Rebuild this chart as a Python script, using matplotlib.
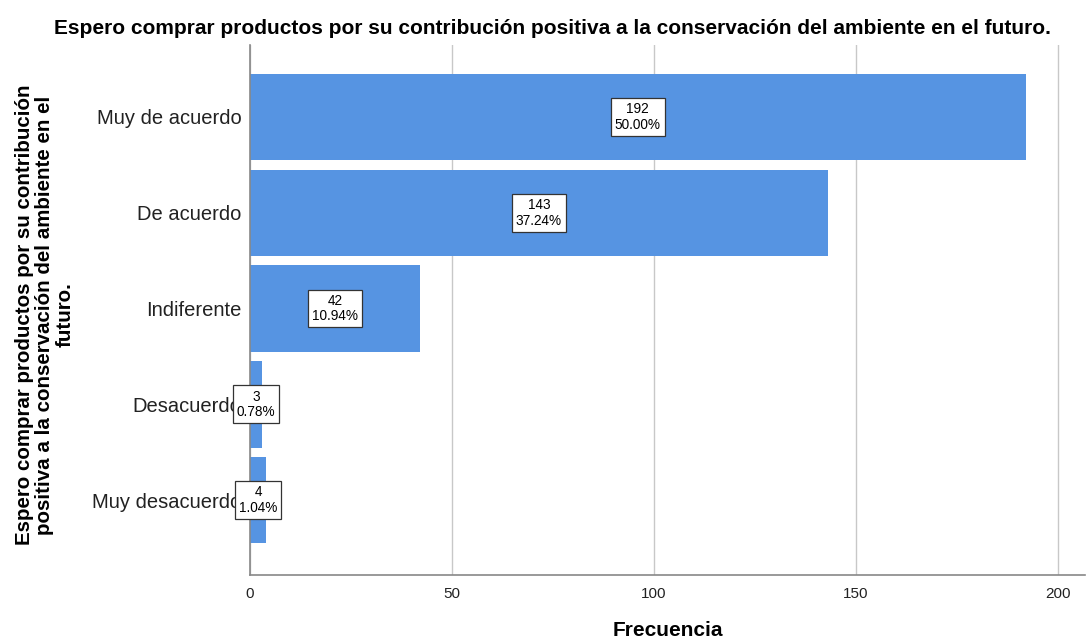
import matplotlib.pyplot as plt
import numpy as np

plt.rcParams['font.family'] = ['Liberation Sans', 'DejaVu Sans']

categorias = ["Muy de acuerdo", "De acuerdo", "Indiferente", "Desacuerdo", "Muy desacuerdo"]
frecuencias = [192, 143, 42, 3, 4]
porcentajes = ["50.00%", "37.24%", "10.94%", "0.78%", "1.04%"]
xticks = [0, 50, 100, 150, 200]

titulo = "Espero comprar productos por su contribución positiva a la conservación del ambiente en el futuro."
etiqueta_y = "Espero comprar productos por su contribución\npositiva a la conservación del ambiente en el\nfuturo."

fig = plt.figure(figsize=(10.87, 6.39), dpi=100)
ax = fig.add_axes([250 / 1087, 1 - 575 / 639, 835 / 1087, 530 / 639])

y = np.arange(len(categorias))
ax.barh(y, frecuencias, height=0.9, color='#5694e2', zorder=2)

# etiquetas de valor en el centro de cada barra
for yi, f, p in zip(y, frecuencias, porcentajes):
    ax.text(f / 2, yi, f"{f}\n{p}", ha='center', va='center', fontsize=9.8,
            linespacing=1.15, zorder=3,
            bbox=dict(boxstyle='square,pad=0.3', fc='white', ec='#333333', lw=0.9))

ax.set_xlim(0, 206.7)
ax.set_ylim(4.78, -0.75)
ax.set_yticks(y)
ax.set_yticklabels(categorias, fontsize=14.5, color='#222222')
ax.set_xticks(xticks)
ax.set_xticklabels([str(t) for t in xticks], fontsize=11, color='#222222',
                   family=['Liberation Sans Narrow', 'Liberation Sans'])
ax.tick_params(axis='both', length=0)
ax.tick_params(axis='y', pad=6)
ax.tick_params(axis='x', pad=9)

ax.grid(axis='x', color='#c8c8c8', lw=1, zorder=0)
for s in ['top', 'right']:
    ax.spines[s].set_visible(False)
for s in ['left', 'bottom']:
    ax.spines[s].set_color('#888888')
    ax.spines[s].set_linewidth(1.2)

ax.set_xlabel("Frecuencia", fontsize=15, fontweight='bold', labelpad=14)
fig.text(0.508, 0.955, titulo, ha='center', va='center', fontsize=15, fontweight='bold')
fig.text(0.041, 0.507, etiqueta_y, rotation=90, ha='center', va='center', fontsize=14.8,
         fontweight='bold', linespacing=1.08, multialignment='center')

fig.savefig("out.png", dpi=100)
